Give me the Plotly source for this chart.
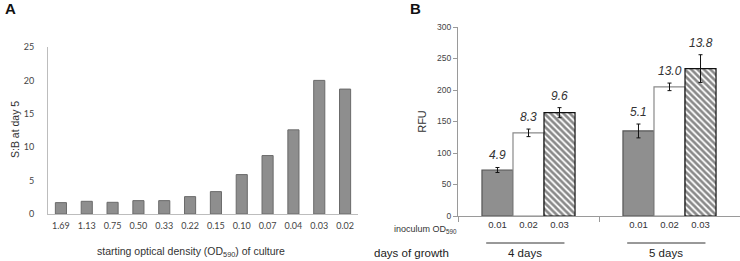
import plotly.graph_objects as go

W, H = 740, 261

# ---------------- Panel A data ----------------
od_start = ["1.69", "1.13", "0.75", "0.50", "0.33", "0.22", "0.15", "0.10", "0.07", "0.04", "0.03", "0.02"]
sb_day5 = [1.7, 1.9, 1.75, 2.0, 2.0, 2.6, 3.35, 5.9, 8.75, 12.6, 20.0, 18.7]

# ---------------- Panel B data ----------------
days = ["4 days", "5 days"]
inoculum = ["0.01", "0.02", "0.03"]
rfu_4d = [73, 132, 164]
rfu_5d = [135, 205, 234]
err_4d = [4, 6, 8]
err_5d = [11, 6, 22]
ratio_4d = [4.9, 8.3, 9.6]
ratio_5d = [5.1, 13.0, 13.8]

def px(x):
    return x / W

def py(y):
    return 1 - y / H

fig = go.Figure()

# Panel A bars
fig.add_trace(go.Bar(
    x=od_start, y=sb_day5, xaxis="x", yaxis="y", width=0.43,
    marker=dict(color="#8e8e8e", line=dict(color="#6a6a6a", width=1)),
    showlegend=False,
))

# Panel B bars
bargap_b = 0.34
bw = (1 - bargap_b) / len(inoculum)
fills = ["#8f8f8f", "#ffffff", "#ffffff"]
lines = ["#555555", "#8a8a8a", "#111111"]
centers = []
for j, ino in enumerate(inoculum):
    xs = [g + (j - 1) * bw for g in range(len(days))]
    centers.extend(xs)
    ys = [rfu_4d[j], rfu_5d[j]]
    es = [err_4d[j], err_5d[j]]
    marker = dict(color=fills[j], line=dict(color=lines[j], width=1.2))
    if j == 2:
        marker["pattern"] = dict(shape="\\", fgcolor="#111111", bgcolor="#ffffff",
                                 size=4.5, solidity=0.6)
    fig.add_trace(go.Bar(
        x=xs, y=ys, xaxis="x2", yaxis="y2", width=bw,
        marker=marker,
        error_y=dict(type="data", array=es, color="#111111", thickness=1, width=2),
        showlegend=False,
    ))
    for g, (yv, ev, r) in enumerate(zip(ys, es, [ratio_4d[j], ratio_5d[j]])):
        fig.add_annotation(
            x=xs[g], y=yv + ev, xref="x2", yref="y2", text=f"<i>{r:.1f}</i>",
            showarrow=False, yanchor="bottom", yshift=3,
            font=dict(size=12, color="#333333", family="Liberation Sans"),
        )

tick_centers = sorted(centers)
tick_text = [inoculum[i % 3] for i in range(len(tick_centers))]

fig.update_layout(
    width=W, height=H,
    margin=dict(l=0, r=0, t=0, b=0),
    paper_bgcolor="white", plot_bgcolor="white",
    barmode="overlay",
    font=dict(family="Liberation Sans", color="#333333"),
    xaxis=dict(
        domain=[px(48), px(358)], anchor="y", type="category", automargin=False,
        showline=True, linecolor="#bdbdbd", linewidth=1, ticks="", showgrid=False,
        tickfont=dict(size=9, color="#444444", family="Lato"), ticklabelstandoff=3,
    ),
    yaxis=dict(
        domain=[py(214), py(47)], anchor="x", range=[0, 25], dtick=5, automargin=False,
        showline=True, linecolor="#bdbdbd", linewidth=1, ticks="", showgrid=False, zeroline=False,
        tickfont=dict(size=9, color="#444444", family="Lato"), ticklabelstandoff=11,
    ),
    xaxis2=dict(
        domain=[px(458), 1.0], anchor="y2", range=[-0.5, 1.5], automargin=False,
        showline=True, linecolor="#9a9a9a", linewidth=1, showgrid=False, zeroline=False,
        tickmode="array", tickvals=tick_centers, ticktext=tick_text, ticks="",
        tickfont=dict(size=9.5, color="#333333"), ticklabelstandoff=0,
        minor=dict(tickmode="array", tickvals=[-0.5, 0.5, 1.5], ticks="outside",
                   ticklen=5, tickcolor="#9a9a9a", showgrid=False),
    ),
    yaxis2=dict(
        domain=[py(216), py(27)], anchor="x2", range=[0, 300], dtick=50, automargin=False,
        showline=True, linecolor="#9a9a9a", linewidth=1, showgrid=False, zeroline=False,
        ticks="outside", ticklen=4, tickcolor="#9a9a9a",
        tickfont=dict(size=8.5, color="#444444"),
        title=dict(text="RFU", font=dict(size=11, color="#333333"), standoff=8),
    ),
)

# Panel A y title
fig.add_annotation(x=px(15), y=py(130), xref="paper", yref="paper", text="S:B at day 5",
                   textangle=-90, showarrow=False, xanchor="center", yanchor="middle",
                   font=dict(size=10.5, color="#333333"))

# Panel letters
fig.add_annotation(x=px(3), y=py(8), xref="paper", yref="paper", text="<b>A</b>",
                   showarrow=False, xanchor="left", yanchor="middle",
                   font=dict(size=15, color="#111111", family="Liberation Sans"))
fig.add_annotation(x=px(408), y=py(8), xref="paper", yref="paper", text="<b>B</b>",
                   showarrow=False, xanchor="left", yanchor="middle",
                   font=dict(size=15, color="#111111", family="Liberation Sans"))

# Panel A x title
fig.add_annotation(x=px(191), y=py(252), xref="paper", yref="paper",
                   text="starting optical density (OD<sub>590</sub>) of culture",
                   showarrow=False, xanchor="center", yanchor="middle",
                   font=dict(size=10.5, color="#333333"))

# Panel B bottom labels
fig.add_annotation(x=px(392), y=py(229), xref="paper", yref="paper",
                   text="inoculum OD<sub>590</sub>", showarrow=False,
                   xanchor="left", yanchor="middle", font=dict(size=9, color="#333333"))
fig.add_annotation(x=px(372), y=py(253), xref="paper", yref="paper",
                   text="days of growth", showarrow=False,
                   xanchor="left", yanchor="middle", font=dict(size=11.5, color="#222222"))
for g, d in enumerate(days):
    fig.add_annotation(x=g - 0.025, y=py(253), xref="x2", yref="paper", text=d,
                       showarrow=False, xanchor="center", yanchor="middle",
                       font=dict(size=11.5, color="#222222"))
    fig.add_shape(type="line", xref="x2", yref="paper", x0=g - 0.3, x1=g + 0.255,
                  y0=py(243), y1=py(243), line=dict(color="#333333", width=1))

fig.write_html("out.html", config={"displayModeBar": False},
               post_script="document.body.style.margin='0px';")
